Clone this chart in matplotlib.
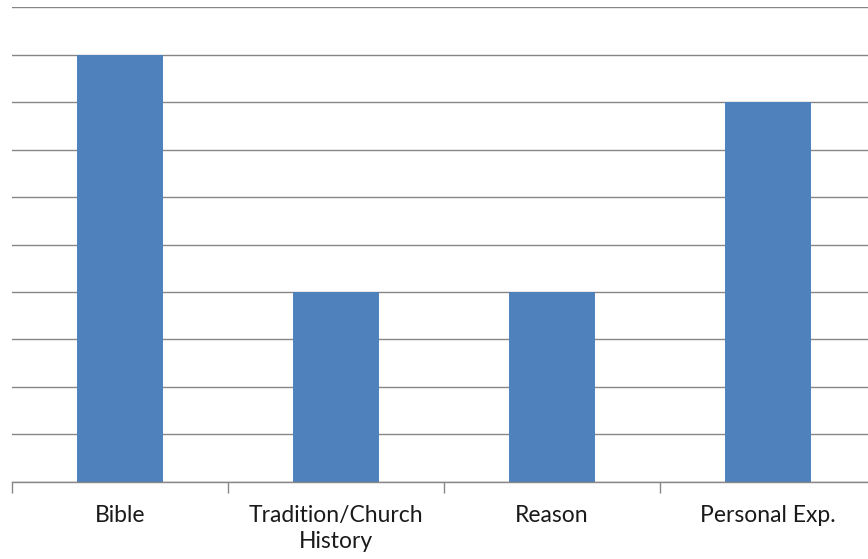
import numpy as np
import matplotlib.pyplot as plt

# data
categories = ['Bible', 'Tradition/Church\nHistory', 'Reason', 'Personal Exp.']
values = [9, 4, 4, 8]
y_ticks = list(range(0, 11))

bar_col = '#4F81BD'
grid_col = '#868686'

fig = plt.figure(figsize=(8.68, 5.59), dpi=100)
# axes runs a bit past the right edge, like the cropped original
ax = fig.add_axes([11.7/868, 77.3/559, 864.4/868, 474.4/559])

x = np.arange(len(categories))
ax.bar(x, values, width=0.4, color=bar_col, zorder=3)

ax.set_xlim(-0.5, len(categories) - 0.5)
ax.set_ylim(0, 10)
ax.set_yticks(y_ticks)
ax.yaxis.grid(True, color=grid_col, linewidth=1.0, zorder=0)
ax.tick_params(axis='y', left=False, labelleft=False)

# category boundary ticks, labels centred under the bars
ax.set_xticks(np.arange(len(categories) + 1) - 0.5)
ax.set_xticklabels([])
ax.set_xticks(x, minor=True)
ax.set_xticklabels(categories, minor=True, fontsize=16.5, family='Lato',
                   color='#1a1a1a', linespacing=1.3)
ax.tick_params(axis='x', which='major', length=8, width=1, color=grid_col, direction='out')
ax.tick_params(axis='x', which='minor', length=0, pad=17)

for s in ['left', 'right', 'top']:
    ax.spines[s].set_visible(False)
ax.spines['bottom'].set_color(grid_col)
ax.spines['bottom'].set_linewidth(1.0)
ax.spines['bottom'].set_zorder(4)

plt.savefig('out.png', dpi=100)
